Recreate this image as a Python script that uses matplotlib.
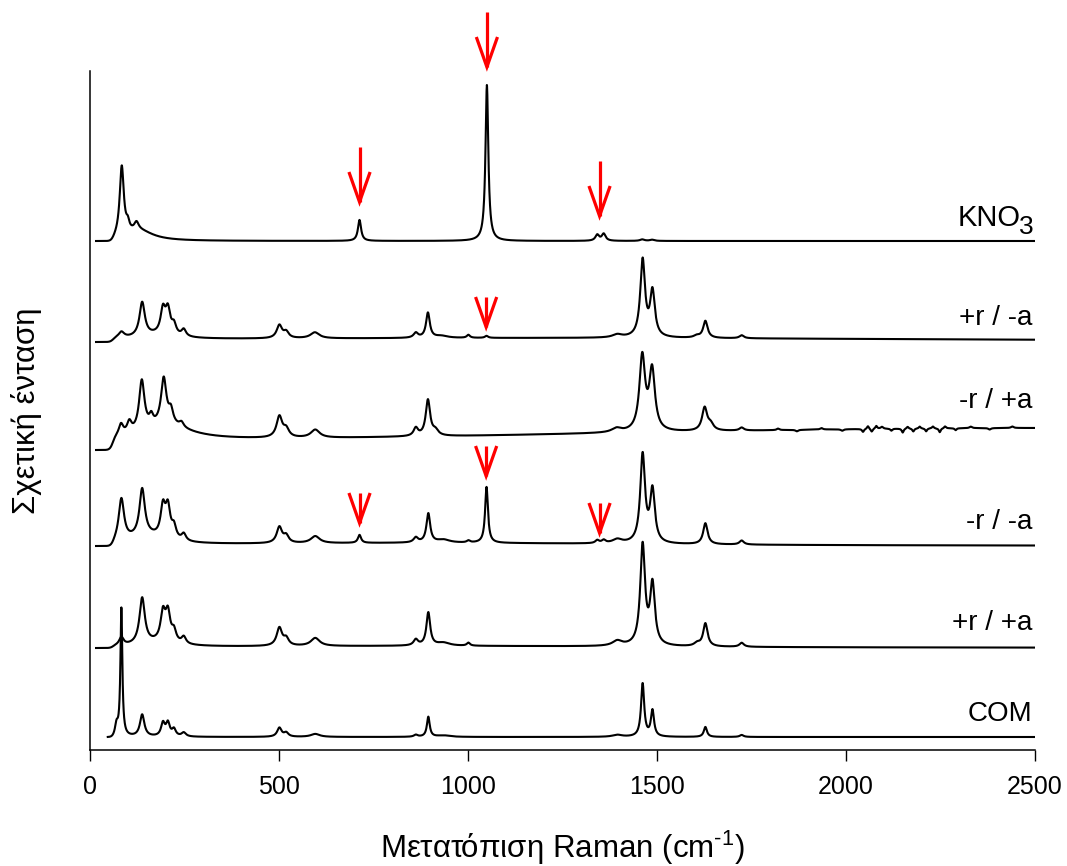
import numpy as np
import matplotlib
matplotlib.use("Agg")
import matplotlib.pyplot as plt
from matplotlib.transforms import ScaledTranslation

plt.rcParams["font.family"] = ["Liberation Sans", "DejaVu Sans"]
plt.rcParams["mathtext.fontset"] = "custom"
plt.rcParams["mathtext.rm"] = "Liberation Sans"
plt.rcParams["mathtext.it"] = "Liberation Sans:italic"

# Raman spectra, stacked bottom to top. Each band: (position cm-1, height, half width)
names = ["COM", "+r / +a", "-r / -a", "-r / +a", "+r / -a", "KNO"]
offsets = [13, 102, 204, 300, 408, 509]
starts = [47, 16, 16, 16, 16, 16]

com_bands = [
    (70, 12, 5), (83, 128, 3), (138, 22, 7), (193, 13, 6), (206, 13, 6),
    (222, 7, 6), (248, 4, 7), (501, 9, 7), (519, 4, 7), (596, 3, 14),
    (862, 2, 6), (895, 20, 4.5), (935, 1.5, 20), (1395, 2, 15),
    (1462, 53, 5), (1488, 26, 5), (1628, 10, 5), (1724, 2, 6),
]
rp_ap_bands = [
    (83, 8, 7), (138, 46, 8.5), (180, 4, 60), (193, 28, 7.5), (206, 28, 7.5),
    (222, 11, 7), (248, 7, 7), (501, 18, 8.5), (519, 7, 8), (596, 8, 14),
    (862, 6, 7), (895, 33, 6), (935, 3, 20), (1001, 3, 5), (1395, 5, 15),
    (1462, 100, 7.5), (1488, 60, 7.5), (1606, 3, 9), (1628, 23, 7), (1724, 4, 7),
    (900, 2, 800),
]
rm_am_bands = [
    (83, 42, 8.5), (150, 8, 60), (138, 47, 8.5), (193, 30, 7.5), (206, 30, 7.5),
    (222, 12, 7), (248, 7, 7), (501, 16, 8.5), (519, 7, 8), (596, 7, 14),
    (713, 8, 5), (862, 5, 7), (895, 29, 6), (935, 3, 20), (1001, 2, 5),
    (1049, 56, 4.5), (1342, 3, 6), (1359, 3, 6), (1395, 4, 15),
    (1462, 88, 7.5), (1488, 52, 7.5), (1628, 21, 7), (1724, 4, 7),
    (900, 3, 700),
]
rm_ap_bands = [
    (82, 11, 7), (104, 11, 7), (137, 50, 8.5), (162, 9, 6), (195, 46, 8.5),
    (214, 13, 7), (242, 5, 7), (200, 15, 80), (501, 21, 9), (519, 8, 9),
    (596, 8, 14), (862, 8, 7), (894, 36, 7), (914, 5, 9), (1393, 4, 15),
    (1461, 74, 9), (1487, 60, 9), (1626, 23, 8), (1642, 6, 9), (1724, 3, 7),
    (2500, 22, 2000),
    # ripple in the high wavenumber region
    (1820, 1.5, 4), (1870, -1.5, 4), (1935, 1.5, 4), (1990, -1.5, 4),
    (2045, -3, 3), (2058, 3, 3), (2068, -3, 3), (2080, 3, 3), (2095, 2, 4),
    (2120, -2, 3), (2150, -4, 3), (2163, 2, 3), (2178, -3, 3), (2195, 2, 3),
    (2212, -3, 3), (2230, 2, 3), (2248, -4, 3), (2262, 2, 3), (2290, -2, 3),
    (2330, 1.5, 4), (2380, -1.5, 4), (2440, 1.5, 4),
]
rp_am_bands = [
    (83, 6, 9), (138, 34, 8.5), (180, 4, 60), (193, 24, 7.5), (206, 24, 7.5),
    (222, 10, 7), (248, 7, 7), (501, 13, 8.5), (519, 6, 8), (595, 6, 14),
    (862, 5, 7), (894, 25, 6), (930, 2, 20), (1001, 3, 5), (1049, 2, 5),
    (1395, 3, 15), (1462, 77, 7.5), (1488, 45, 7.5), (1605, 2, 9),
    (1628, 17, 7), (1724, 3, 7), (1200, 4, 1500),
]
kno3_bands = [
    (84, 70, 6.5), (100, 8, 5), (123, 8, 7), (130, 10, 45), (713, 21, 5),
    (1050, 156, 4.5), (1342, 6, 6), (1359, 7, 6), (1461, 1.5, 7), (1487, 1.2, 7),
]
bands = [com_bands, rp_ap_bands, rm_am_bands, rm_ap_bands, rp_am_bands, kno3_bands]

# red markers: (position cm-1, tip height, long shaft?)
arrows = [
    (713, 548, True), (1050, 683, True), (1348, 534, True),
    (1048, 423, False),
    (713, 227, False), (1048, 274, False), (1348, 217, False),
]

label_y = [29, 120, 221, 342, 425, 524]


def spectrum(x, band_list, cut):
    y = np.zeros_like(x)
    for pos, h, w in band_list:
        y += h / (1 + ((x - pos) / w) ** 2)
    edge = 1 / (1 + np.exp(-(x - cut) / 4))
    return y * edge


fig = plt.figure(figsize=(10.67, 8.66), dpi=100)
ax = fig.add_axes([90 / 1067, 116 / 866, 945 / 1067, 679 / 866])

for name, off, x0, bl, ly in zip(names, offsets, starts, bands, label_y):
    x = np.linspace(x0, 2500, 6000)
    ax.plot(x, off + spectrum(x, bl, 60), color="black", lw=1.5)
    if name == "KNO":
        # subscript drawn as its own text so it keeps a large size
        drop = ScaledTranslation(0, -6 / 72, fig.dpi_scale_trans)
        ax.text(2496, ly, "3", ha="right", va="baseline", fontsize=19,
                transform=ax.transData + drop)
        ax.text(2461, ly, name, ha="right", va="baseline", fontsize=21)
    else:
        ax.text(2492, ly, name, ha="right", va="baseline", fontsize=20)

hw = 28  # half width of the arrow head in cm-1
for pos, tip, long_shaft in arrows:
    head = 30
    shaft = 55 if long_shaft else 30
    ax.plot([pos, pos], [tip, tip + shaft], color="red", lw=2.3,
            clip_on=False, solid_capstyle="butt")
    ax.plot([pos - hw, pos, pos + hw], [tip + head, tip, tip + head],
            color="red", lw=2.3, clip_on=False, solid_joinstyle="miter",
            solid_capstyle="butt")

ax.set_xlim(0, 2500)
ax.set_ylim(0, 679)
ax.set_xticks([0, 500, 1000, 1500, 2000, 2500])
ax.set_yticks([])
ax.tick_params(axis="x", direction="out", length=8, width=1, labelsize=18, pad=10)
for side in ("top", "right"):
    ax.spines[side].set_visible(False)
for side in ("left", "bottom"):
    ax.spines[side].set_linewidth(1.1)

ax.set_xlabel(r"Μετατόπιση Raman (cm$^{\text{-1}}$)", fontsize=22.5)
ax.xaxis.set_label_coords(0.5, -0.116)
ax.set_ylabel("Σχετική ένταση", fontsize=22.5)
ax.yaxis.set_label_coords(-0.051, 0.5)

fig.savefig("out.png", dpi=100, facecolor="white")
